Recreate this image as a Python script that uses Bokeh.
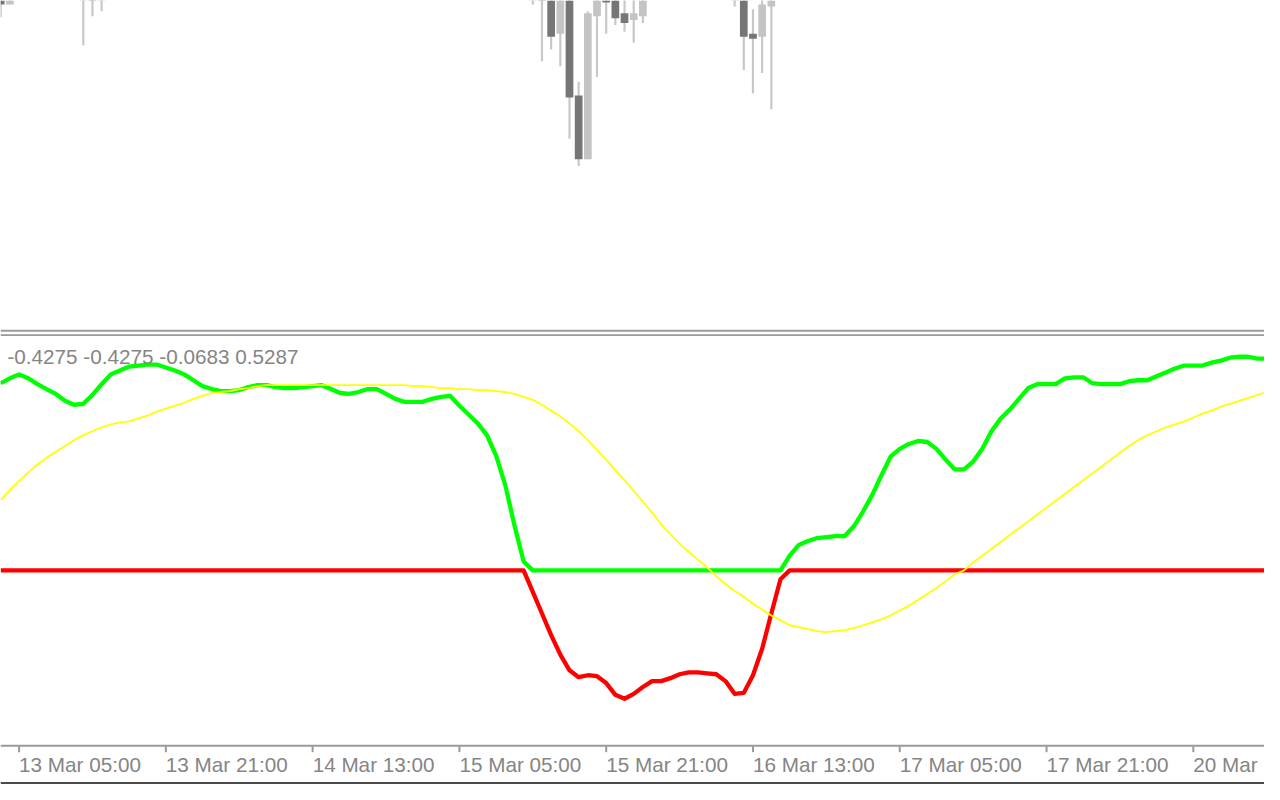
import numpy as np
from bokeh.plotting import figure
from bokeh.models import Range1d, Span, ColumnDataSource
from bokeh.core.properties import value
from bokeh.embed import file_html
from bokeh.resources import INLINE

# ---------------- data ----------------
# candles (bar index, OHLC) - only the ones reaching into the visible window
candle_bar = [-2, -1, 7, 8, 9, 56, 57, 58, 59, 60, 61, 62, 63, 64, 65, 66, 67, 68, 78, 79, 80, 81, 82]
candle_open = [1.0780, 1.0746, 1.0770, 1.0785, 1.0760, 1.0760, 1.0790, 1.0770, 1.0716, 1.0755, 1.0653, 1.0588,
               1.0734, 1.0765, 1.0760, 1.0737, 1.0730, 1.0734, 1.0760, 1.0770, 1.0716, 1.0713, 1.0744]
candle_high = [1.0790, 1.0785, 1.0800, 1.0795, 1.0790, 1.0790, 1.0800, 1.0780, 1.0770, 1.0765, 1.0667, 1.0739,
               1.0780, 1.0775, 1.0770, 1.0760, 1.0755, 1.0775, 1.0790, 1.0780, 1.0741, 1.0755, 1.0785]
candle_low = [1.0733, 1.0746, 1.0704, 1.0734, 1.0739, 1.0746, 1.0688, 1.0700, 1.0683, 1.0609, 1.0581, 1.0588,
              1.0672, 1.0716, 1.0725, 1.0718, 1.0707, 1.0727, 1.0744, 1.0679, 1.0655, 1.0676, 1.0639]
candle_close = [1.0746, 1.0775, 1.0790, 1.0765, 1.0780, 1.0780, 1.0752, 1.0713, 1.0760, 1.0651, 1.0588, 1.0737,
                1.0770, 1.0748, 1.0732, 1.0727, 1.0737, 1.0765, 1.0780, 1.0713, 1.0711, 1.0746, 1.0775]

# indicator (one value per bar, bars -2 .. 136)
ind_bar = list(range(-2, 137))
oscillator = [
    1.91, 1.96, 2.00, 1.96, 1.90, 1.85, 1.80, 1.73, 1.69, 1.70,   # -2..7
    1.79, 1.90, 2.00, 2.04, 2.08, 2.09, 2.10, 2.10, 2.07, 2.04,   # 8..17
    2.00, 1.94, 1.88, 1.85, 1.83, 1.83, 1.84, 1.87, 1.89, 1.89,   # 18..27
    1.87, 1.86, 1.86, 1.87, 1.88, 1.89, 1.85, 1.81, 1.80, 1.82,   # 28..37
    1.85, 1.85, 1.80, 1.75, 1.72, 1.72, 1.72, 1.75, 1.77, 1.78,   # 38..47
    1.68, 1.59, 1.50, 1.38, 1.17, 0.87, 0.46, 0.09, -0.22, -0.44, # 48..57
    -0.66, -0.86, -1.02, -1.09, -1.07, -1.08, -1.15, -1.27, -1.31, -1.26,  # 58..67
    -1.19, -1.13, -1.13, -1.10, -1.06, -1.04, -1.04, -1.05, -1.06, -1.13,  # 68..77
    -1.26, -1.25, -1.07, -0.80, -0.44, -0.09, 0.15, 0.26, 0.30, 0.33,      # 78..87
    0.34, 0.35, 0.35, 0.45, 0.60, 0.77, 0.97, 1.16, 1.24, 1.29,   # 88..97
    1.32, 1.31, 1.24, 1.13, 1.03, 1.03, 1.11, 1.24, 1.42, 1.55,   # 98..107
    1.64, 1.75, 1.86, 1.90, 1.90, 1.90, 1.96, 1.97, 1.97, 1.91,   # 108..117
    1.90, 1.90, 1.90, 1.93, 1.94, 1.94, 1.98, 2.02, 2.06, 2.09,   # 118..127
    2.09, 2.09, 2.12, 2.14, 2.17, 2.18, 2.18, 2.16, 2.16,         # 128..136
]
signal = [
    0.72, 0.82, 0.91, 1.00, 1.08, 1.15, 1.21, 1.27, 1.33, 1.38,   # -2..7
    1.42, 1.46, 1.49, 1.51, 1.52, 1.55, 1.58, 1.62, 1.65, 1.68,   # 8..17
    1.71, 1.75, 1.78, 1.81, 1.82, 1.83, 1.85, 1.86, 1.88, 1.89,   # 18..27
    1.89, 1.89, 1.89, 1.89, 1.89, 1.89, 1.89, 1.89, 1.89, 1.89,   # 28..37
    1.89, 1.89, 1.89, 1.89, 1.89, 1.88, 1.88, 1.87, 1.86, 1.86,   # 38..47
    1.85, 1.85, 1.84, 1.84, 1.83, 1.82, 1.80, 1.77, 1.74, 1.69,   # 48..57
    1.63, 1.57, 1.50, 1.42, 1.33, 1.23, 1.13, 1.02, 0.92, 0.81,   # 58..67
    0.70, 0.59, 0.47, 0.37, 0.27, 0.19, 0.11, 0.03, -0.06, -0.14, # 68..77
    -0.21, -0.27, -0.34, -0.40, -0.46, -0.51, -0.56, -0.58, -0.60, -0.62,  # 78..87
    -0.63, -0.62, -0.61, -0.59, -0.56, -0.53, -0.50, -0.46, -0.41, -0.36,  # 88..97
    -0.30, -0.24, -0.18, -0.11, -0.04, 0.00, 0.08, 0.15, 0.22, 0.29,       # 98..107
    0.36, 0.43, 0.50, 0.57, 0.64, 0.71, 0.78, 0.85, 0.92, 0.99,   # 108..117
    1.06, 1.13, 1.20, 1.27, 1.33, 1.38, 1.42, 1.46, 1.49, 1.52,   # 118..127
    1.56, 1.60, 1.63, 1.67, 1.70, 1.73, 1.76, 1.79, 1.82,         # 128..136
]
level = 0.0

tick_bars = [0, 16, 32, 48, 64, 80, 96, 112, 128]
tick_labels = ["13 Mar 05:00", "13 Mar 21:00", "14 Mar 13:00", "15 Mar 05:00", "15 Mar 21:00",
               "16 Mar 13:00", "17 Mar 05:00", "17 Mar 21:00", "20 Mar"]
readout = "-0.4275 -0.4275 -0.0683 0.5287"

# ---------------- layout constants (indicator units) ----------------
SEP1, SEP2 = 2.445, 2.40          # double separator between panes
AXIS_Y = -1.79                    # bottom border of indicator pane
TICK_TOP, TICK_BOT = -1.795, -1.855
LABEL_Y = -1.985
READOUT_Y = 2.185
READOUT_X = -1.27
BOTTOM_Y = -2.17

GRID = "#999a9e"
TEXT = "#858585"
FONT = value("Liberation Sans")

p = figure(width=1264, height=784, output_backend="svg", toolbar_location=None,
           x_range=Range1d(-2.024, 135.76), y_range=Range1d(-2.185, 5.815),
           min_border=0)
p.extra_y_ranges = {"price": Range1d(0.9950, 1.0750)}
p.axis.visible = False
p.grid.visible = False
p.outline_line_color = None
p.background_fill_color = "white"
p.border_fill_color = "white"

# candles
o = np.array(candle_open); c = np.array(candle_close)
csrc = ColumnDataSource(dict(
    x=candle_bar, high=candle_high, low=candle_low,
    top=np.maximum(o, c), bottom=np.minimum(o, c),
    color=np.where(c < o, "#767676", "#c4c4c4"),
))
p.segment(x0="x", y0="high", x1="x", y1="low", source=csrc, y_range_name="price",
          line_color="#c8c8c8", line_width=2.2)
p.vbar(x="x", top="top", bottom="bottom", width=0.84, source=csrc, y_range_name="price",
       fill_color="color", line_color=None)

# separators / frame
for loc, w in ((SEP1, 2.2), (SEP2, 1.6)):
    p.add_layout(Span(location=loc, dimension="width", line_color=GRID, line_width=w))
p.add_layout(Span(location=AXIS_Y, dimension="width", line_color=GRID, line_width=2))
p.add_layout(Span(location=BOTTOM_Y, dimension="width", line_color="#4a4a4a", line_width=2))

# indicator
osc = np.array(oscillator)
p.line(ind_bar, np.minimum(osc, level), line_color="#ff0000", line_width=4.3, line_join="round")
p.line(ind_bar, np.maximum(osc, level), line_color="#00ff00", line_width=4.3, line_join="round")
p.line(ind_bar, signal, line_color="#ffff00", line_width=1.8)

# time axis
p.segment(x0=tick_bars, y0=[TICK_TOP] * len(tick_bars), x1=tick_bars, y1=[TICK_BOT] * len(tick_bars),
          line_color=GRID, line_width=2)
p.text(x=tick_bars, y=[LABEL_Y] * len(tick_bars), text=tick_labels, text_align="left",
       text_baseline="middle", text_font=FONT, text_font_size="20.7px", text_color=TEXT)

# data-window readout
p.text(x=[READOUT_X], y=[READOUT_Y], text=[readout], text_align="left", text_baseline="middle",
       text_font=FONT, text_font_size="20.7px", text_color=TEXT)

open("out.html", "w").write(file_html(p, INLINE))
